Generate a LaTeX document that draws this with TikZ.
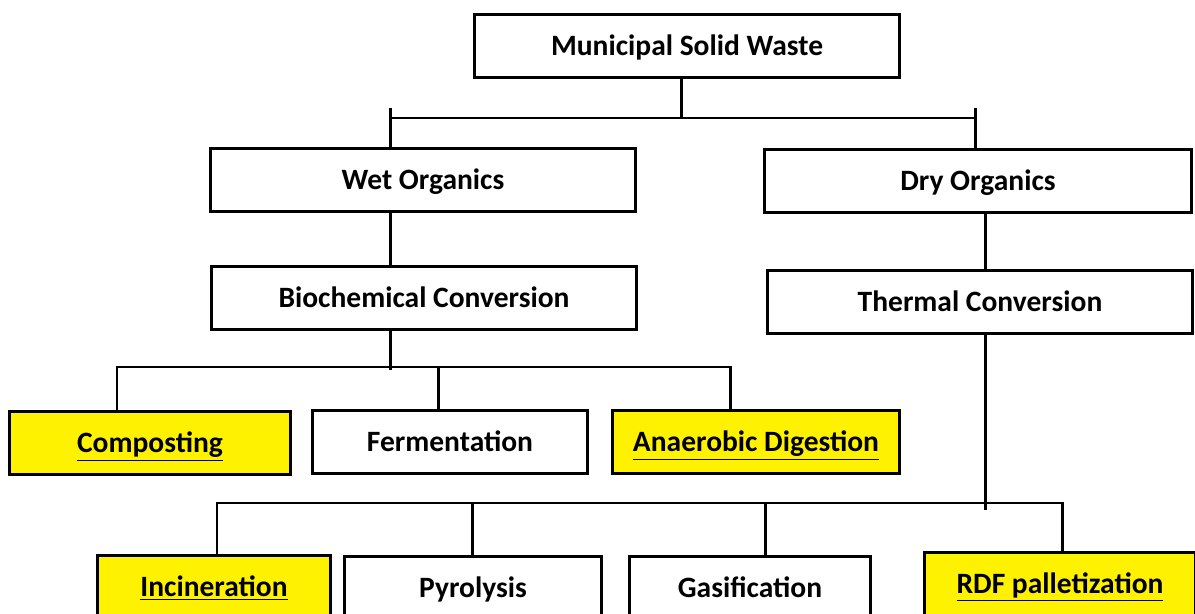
\documentclass[tikz,border=0pt]{standalone}
\usepackage{fontspec}
\setmainfont{Carlito}
\usetikzlibrary{positioning}

\begin{document}
\begin{tikzpicture}[x=0.02cm, y=-0.02cm,
	every node/.style={draw, line width=1.7pt, inner sep=0pt, minimum height=1.27cm, text height=2.5ex, text depth=0.2ex, align=center, font=\bfseries\fontsize{16.8}{19}\selectfont},
	hilite/.style={fill=yellow}]
\useasboundingbox (0,0) rectangle (1195,614);

\node[minimum width=8.52cm] (msw) at (687,46) {Municipal Solid Waste};
\node[minimum width=8.52cm] (wet) at (423,180) {Wet Organics};
\node[minimum width=8.54cm] (dry) at (978,181) {Dry Organics};
\node[minimum width=8.52cm] (bio) at (424,298) {Biochemical Conversion};
\node[minimum width=8.52cm] (thermal) at (980,302) {Thermal Conversion};

\node[hilite, minimum width=5.62cm] (comp) at (150,443) {\underline{Composting}};
\node[minimum width=5.52cm] (ferm) at (450,442) {Fermentation};
\node[hilite, minimum width=5.76cm] (ana) at (756,442) {\underline{Anaerobic Digestion}};

\node[hilite, minimum width=4.68cm] (inc) at (214,587) {\underline{Incineration}};
\node[minimum width=5.16cm] (pyr) at (473,588) {Pyrolysis};
\node[minimum width=4.82cm] (gas) at (750,588) {Gasification};
\node[hilite, minimum width=5.42cm] (rdf) at (1060,584) {\underline{RDF palletization}};

\coordinate (busA) at (681,118);
\coordinate (wetTick) at (390,108);
\coordinate (dryTick) at (975,108);
\coordinate (bioStem) at (390,370);
\coordinate (thStem) at (985,510);
\coordinate (compTick) at (117,367);
\coordinate (fermTick) at (438,367);
\coordinate (anaTick) at (730,367);
\coordinate (incTick) at (217,503);
\coordinate (pyrTick) at (472,503);
\coordinate (gasTick) at (765,503);
\coordinate (rdfTick) at (1062,503);

\begin{scope}[every path/.style={draw, line width=1.7pt}]
	\draw (msw.south -| busA) -- (busA);
	\draw (wetTick |- busA) -- (dryTick |- busA);
	\draw (wetTick) -- (wetTick |- wet.north);
	\draw (dryTick) -- (dryTick |- dry.north);
	\draw (wetTick |- wet.south) -- (wetTick |- bio.north);
	\draw (thStem |- dry.south) -- (thStem |- thermal.north);
	\draw (bioStem |- bio.south) -- (bioStem);
	\draw (comp.north -| compTick) -- (compTick) -- (anaTick) -- (anaTick |- ana.north);
	\draw (fermTick) -- (fermTick |- ferm.north);
	\draw (thStem |- thermal.south) -- (thStem);
	\draw (inc.north -| incTick) -- (incTick) -- (rdfTick) -- (rdfTick |- rdf.north);
	\draw (pyrTick) -- (pyrTick |- pyr.north);
	\draw (gasTick) -- (gasTick |- gas.north);
\end{scope}

\end{tikzpicture}
\end{document}
